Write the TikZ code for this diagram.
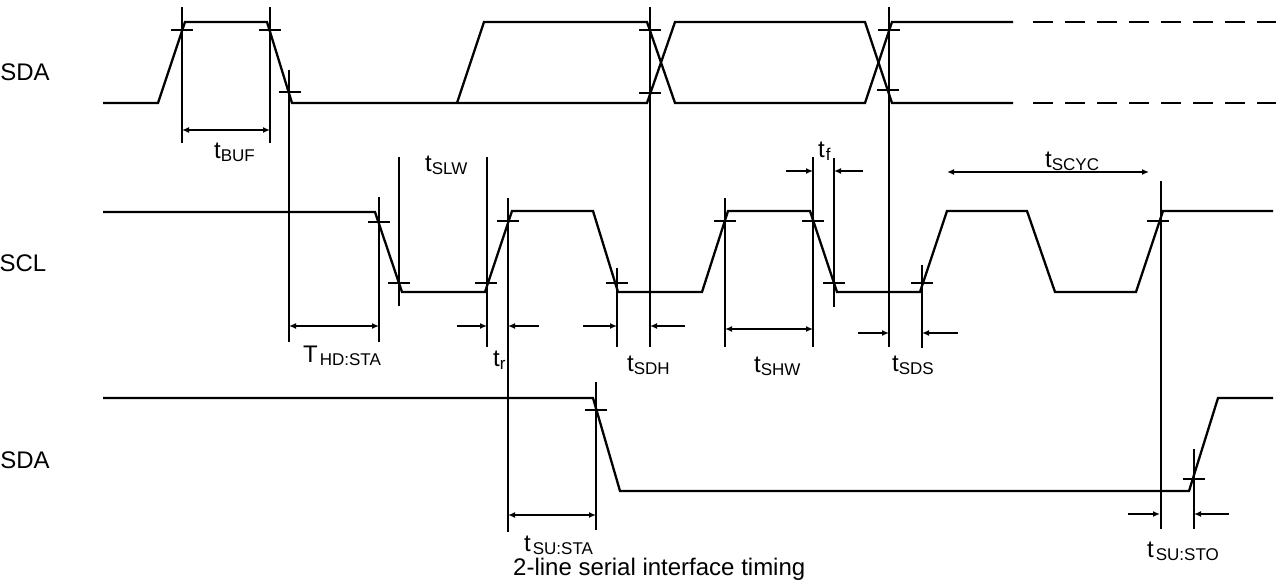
\documentclass[tikz,border=0pt]{standalone}
\usepackage{fontspec}
\setmainfont{Liberation Sans}
\usetikzlibrary{arrows.meta}
\tikzset{
  wave/.style={line width=2.3pt},
  vref/.style={line width=2.3pt},
  tickmark/.style={line width=2.3pt},
  dimone/.style={line width=2pt,-{Latex[length=7pt,width=6pt]}},
  dimtwo/.style={line width=2pt,{Latex[length=7pt,width=6pt]}-{Latex[length=7pt,width=6pt]}},
  lab/.style={anchor=base west,inner sep=0pt,font=\fontsize{24}{26}\selectfont},
  sig/.style={anchor=center,inner sep=0pt,font=\fontsize{24}{26}\selectfont},
}
\newcommand{\subt}[1]{\raisebox{-3pt}{\fontsize{17}{18}\selectfont #1}}
\newcommand{\tk}[2]{\draw[tickmark] (#1,#2) ++(-11,0) -- ++(22,0);}
\begin{document}
\begin{tikzpicture}[x=1pt,y=-1pt]
\useasboundingbox (0,0) rectangle (1276,579);
% signal names
\node[sig] (sda1) at (25,72) {SDA};
\node[sig] (scl) at (23,263) {SCL};
\node[sig] (sda2) at (25,460) {SDA};
% SDA (top)
\draw[wave] (103,103) -- (158,103) -- (185,22) -- (267,22) -- (292,103) -- (647,103) -- (675,22) -- (865,22) -- (892,103) -- (1013,103);
\draw[wave] (457,103) -- (484,22) -- (647,22) -- (675,103) -- (865,103) -- (892,22) -- (1013,22);
\draw[wave,dash pattern=on 20pt off 12pt] (1033,22) -- (1276,22);
\draw[wave,dash pattern=on 20pt off 12pt] (1033,103) -- (1276,103);
% SCL
\draw[wave] (103,212) -- (375,212) -- (402,292) -- (485,292) -- (512,211) -- (593,211) -- (618,292) -- (702,292) -- (728,211) -- (810,211) -- (837,292) -- (920,292) -- (947,211) -- (1027,211) -- (1055,292) -- (1136,292) -- (1163,211) -- (1273,211);
% SDA (bottom)
\draw[wave] (103,398) -- (593,398) -- (620,491) -- (1189,491) -- (1218,398) -- (1273,398);
% reference lines
\draw[vref] (182,7) -- (182,143);
\draw[vref] (270,7) -- (270,143);
\draw[vref] (289,70) -- (289,342);
\draw[vref] (379,197) -- (379,342);
\draw[vref] (399,157) -- (399,306);
\draw[vref] (487,157) -- (487,347);
\draw[vref] (508,198) -- (508,532);
\draw[vref] (617,268) -- (617,347);
\draw[vref] (650,7) -- (650,347);
\draw[vref] (725,198) -- (725,347);
\draw[vref] (813,157) -- (813,347);
\draw[vref] (834,158) -- (834,307);
\draw[vref] (889,7) -- (889,347);
\draw[vref] (922,265) -- (922,348);
\draw[vref] (1161,181) -- (1161,529);
\draw[vref] (596,382) -- (596,530);
\draw[vref] (1194,449) -- (1194,529);
% tick marks
\tk{182}{30}\tk{270}{30}\tk{290}{92}
\tk{379}{222}\tk{399}{283}\tk{486}{283}\tk{508}{221}\tk{617}{283}
\tk{650}{30}\tk{650}{93}\tk{725}{221}\tk{813}{221}\tk{834}{283}
\tk{889}{30}\tk{888}{90}\tk{922}{283}\tk{1158}{221}
\tk{596}{410}\tk{1194}{479}
% dimension arrows
\draw[dimtwo] (182,130) -- (270,130);
\draw[dimtwo] (289,326) -- (379,326);
\draw[dimone] (457,326) -- (487,326);
\draw[dimone] (539,326) -- (508,326);
\draw[dimone] (583,326) -- (617,326);
\draw[dimone] (685,326) -- (650,326);
\draw[dimtwo] (725,329) -- (813,329);
\draw[dimone] (786,171) -- (813,171);
\draw[dimone] (863,171) -- (834,171);
\draw[dimone] (858,333) -- (889,333);
\draw[dimone] (958,333) -- (922,333);
\draw[dimtwo] (947,172) -- (1149,172);
\draw[dimtwo] (508,515) -- (596,515);
\draw[dimone] (1128,514) -- (1160,514);
\draw[dimone] (1229,514) -- (1194,514);
% labels
\node[lab] (tbuf) at (214,158) {t\subt{BUF}};
\node[lab] (tslw) at (425,171) {t\subt{SLW}};
\node[lab] (thd) at (303,362) {T\hspace{2pt}\subt{HD:STA}};
\node[lab] (tr) at (493,366) {t\subt{r}};
\node[lab] (tsdh) at (627,371) {t\subt{SDH}};
\node[lab] (tshw) at (754,372) {t\subt{SHW}};
\node[lab] (tsds) at (892,371) {t\subt{SDS}};
\node[lab] (tf) at (818,157) {t\hspace{1pt}\subt{f}};
\node[lab] (tscyc) at (1045,167) {t\subt{SCYC}};
\node[lab] (tsusta) at (524,551) {t\hspace{2pt}\subt{SU:STA}};
\node[lab] (tsusto) at (1147,557) {t\hspace{2pt}\subt{SU:STO}};
\node[lab] (cap) at (513,575) {2-line serial interface timing};
\end{tikzpicture}
\end{document}
